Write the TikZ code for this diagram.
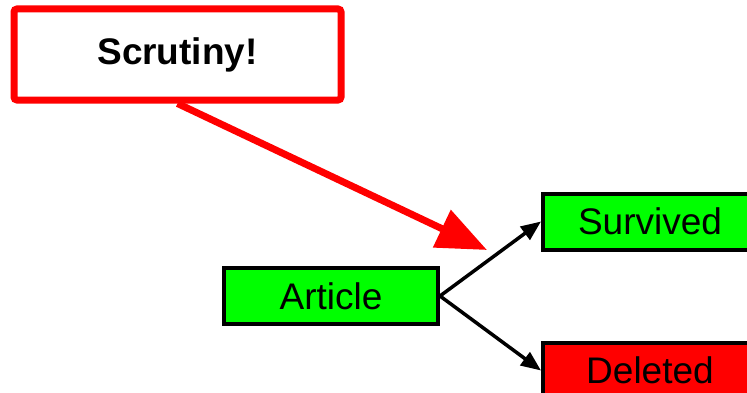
\documentclass[tikz,border=0pt]{standalone}
\usepackage{fontspec}
\setmainfont{Liberation Sans}
\usetikzlibrary{arrows.meta}
\begin{document}
\begin{tikzpicture}
[x=1pt,y=1pt,
grow=right,
level 1/.style={sibling distance=149pt, level distance=319pt},
edge from parent path={(\tikzparentnode.east) -- (\tikzchildnode.west)},
edge from parent/.style={draw,line width=3.5pt,-{Triangle[length=20pt,width=16pt]}}
]
\tikzset{every node/.style={draw,line width=4pt,fill=green,
                            minimum width=214pt,minimum height=56pt,
                            font=\fontsize{37}{40}\selectfont}}
%\tikzset{every node/.style={rounded corners=1pt}}
\useasboundingbox (0,0) rectangle (747,392);
\node (article) at (331,96) {Article}
    child {
        node[fill=red] (deleted) {Deleted}
    }
    child {
        node (survived) {Survived}
    }
    ;
\node[draw=red,fill=white,line width=7pt,rounded corners=3pt,
      minimum width=327pt,minimum height=91pt,
      font=\fontsize{37}{40}\selectfont\bfseries] (scrutiny) at (177.5,337.5) {Scrutiny!};
\coordinate (hit) at (487,142);
\draw[red,line width=7pt,-{Triangle[length=50pt,width=40pt]}] (scrutiny.south) -- (hit);
\end{tikzpicture}
\end{document}
